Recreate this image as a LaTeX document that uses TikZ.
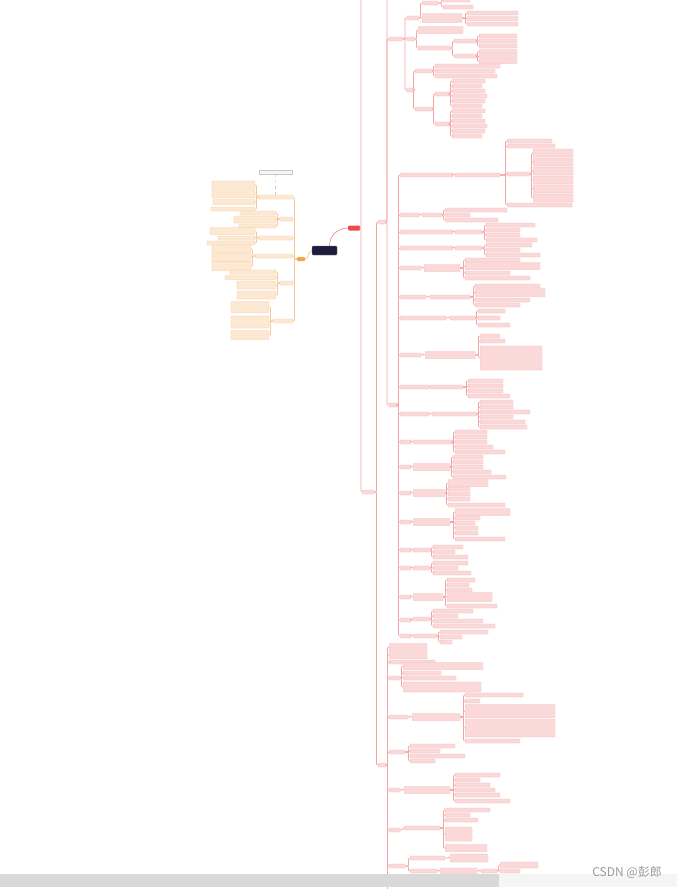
\documentclass[tikz,border=0pt]{standalone}
\usepackage{fontspec}
\usepackage{xcolor}
\newfontfamily\markfont{Noto Sans CJK SC}

\definecolor{pinkline}{HTML}{F4A4A4}
\definecolor{pinkbox}{HTML}{FCD9D9}
\definecolor{pinkedge}{HTML}{F2B5B5}
\definecolor{peachline}{HTML}{F6C898}
\definecolor{peachbox}{HTML}{FDE8D2}
\definecolor{peachedge}{HTML}{F5CBA0}
\definecolor{rootblue}{HTML}{1C1C3C}
\definecolor{hubred}{HTML}{EE4A4A}
\definecolor{huborange}{HTML}{F5A24E}

% children growing to the right
\newcommand\kidsR[4]{%
  \foreach \y/\w/\h [count=\i] in {#4}{%
    \node[boxR, anchor=west, minimum width=\w pt, minimum height=\h pt] (#2\i) at (#3,\y) {};
    \draw[linkR] (#1.east) -| ([xshift=-1.5pt]#2\i.west) -- (#2\i.west);
  }}
% children growing to the left
\newcommand\kidsL[4]{%
  \foreach \y/\w/\h [count=\i] in {#4}{%
    \node[boxL, anchor=east, minimum width=\w pt, minimum height=\h pt] (#2\i) at (#3,\y) {};
    \draw[linkL] (#1.west) -| ([xshift=1.5pt]#2\i.east) -- (#2\i.east);
  }}

\begin{document}
\begin{tikzpicture}[
    x=1pt, y=-1pt,
    boxR/.style={
        draw=pinkedge,
        fill=pinkbox,
        line width=0.2pt,
        inner sep=0pt,
        rounded corners=0.5pt
    },
    boxL/.style={
        draw=peachedge,
        fill=peachbox,
        line width=0.2pt,
        inner sep=0pt,
        rounded corners=0.5pt
    },
    linkR/.style={
        draw=pinkline,
        line width=0.7pt,
        rounded corners=1pt
    },
    linkL/.style={
        draw=peachline,
        line width=0.7pt,
        rounded corners=1pt
    }
]

\useasboundingbox (0,0) rectangle (677,889);
\fill[white] (0,0) rectangle (677,889);
\clip (0,0) rectangle (677,889);

% Centre and the two hubs
\node[fill=rootblue, draw=rootblue!60, rounded corners=1pt,
      minimum width=25pt, minimum height=9pt, inner sep=0pt] (root) at (324.5,250.5) {};
\node[fill=hubred, rounded corners=1pt,
      minimum width=12pt, minimum height=5pt, inner sep=0pt] (hub) at (354,228) {};
\node[fill=huborange, rounded corners=1pt,
      minimum width=8pt, minimum height=4pt, inner sep=0pt] (side) at (301,259) {};

\draw[hubred!70, line width=0.6pt]
    ([xshift=5pt]root.north) .. controls +(0,-12) and +(-8,0) .. (hub.west);
\draw[huborange!70, line width=0.6pt]
    (root.west) .. controls +(-4,0) and +(4,0) .. (side.east);

% Right trunk
\coordinate (topR) at (361,-8);
\coordinate (topK) at (387,-8);
\coordinate (botK) at (387.5,900);
\node[boxR, anchor=west, minimum width=12pt, minimum height=4pt] (c2) at (362,492) {};
\draw[linkR] (hub.east) -| ([xshift=-1pt]c2.west) -- (c2.west);
\draw[linkR] (hub.east) -| (topR);

\kidsR{c2}{br}{378}{222/8/4, 765/8/4}
\kidsR{br1}{sec}{388.5}{39/14/4, 405/9/4}
\draw[linkR] (br1.east) -| (topK);

% Top block
\kidsR{sec1}{a}{406.5}{18/12/4, 39/8/4, 90/7/4}
\kidsR{a1}{aa}{422}{3/16/4, 18/40/9}
\kidsR{aa1}{aab}{443}{0/27/4, 7/30/4}
\kidsR{aa2}{aac}{467}{13/51/4, 18.5/51/4, 24/51/4}
\kidsR{a2}{ab}{418}{30/45/7, 48/33/4}
\kidsR{ab2}{abc}{454}{41/23/4, 56/23/4}
\kidsR{abc1}{abd}{479}{36/38/4, 41/38/4, 46/38/4}
\kidsR{abc2}{abe}{479}{51.5/38/4, 56.5/38/4, 61.5/38/4}
\kidsR{a3}{ac}{415}{71/17/4, 109/18/4}
\kidsR{ac1}{acl}{435}{66/65/4, 71/60/4, 76/62/4}
\kidsR{ac2}{acm}{435}{94/15/4, 124/15/4}
\kidsR{acm1}{acn}{452}{81/33/4, 86/30/4, 91/33/4, 96/35/4, 101/33/4, 106/30/4}
\kidsR{acm2}{aco}{452}{111/33/4, 116/30/4, 121/33/4, 126/35/4, 131/33/4, 136/30/4}

% Middle block
\kidsR{sec2}{k}{400}{175/53/4, 215/19/4, 232/53/4, 248/53/4, 268/21/4, 297/26/4,
    318/46/4, 355/21/4, 387/29/4, 414/29/4, 442/11/4, 467/11/4, 493/11/4,
    522/11/4, 550/11/4, 568/11/4, 597/11/4, 620/11/4, 636/11/4}
\kidsR{k1}{ka}{455}{175/45/4}
\kidsR{ka1}{kb}{507}{141/45/4, 146/48/4, 174/23/4, 205/65/4}
\kidsR{kb3}{kc}{533}{153/40/8, 162/40/8, 171/40/8, 180/40/8, 189/40/8, 198/40/8}
\kidsR{k2}{kd}{422}{215/20/4}
\kidsR{kd1}{ke}{445}{210/62/4, 215/25/4, 220/53/4}
\kidsR{k3}{kf}{455}{232/27/4}
\kidsR{kf1}{kg}{486}{225/49/4, 230/34/4, 235/34/4, 240/51/4}
\kidsR{k4}{kh}{455}{248/27/4}
\kidsR{kh1}{ki}{486}{245/46/4, 250/34/4, 255/54/4}
\kidsR{k5}{kj}{424}{268/36/7}
\kidsR{kj1}{kk}{465}{260/55/4, 266/75/7, 273/45/4, 278/65/4}
\kidsR{k6}{kl}{430}{297/40/4}
\kidsR{kl1}{km}{475}{286/65/4, 292.5/70/8, 300/55/4, 305/45/4}
\kidsR{k7}{kn}{450}{318/25/4}
\kidsR{kn1}{ko}{478}{311/27/4, 318/22/4, 325/32/4}
\kidsR{k8}{kp}{425}{355/50/7}
\kidsR{kp1}{kq}{480}{336/20/4, 341/25/4, 358/62/24}
\kidsR{k9}{kr}{430}{387/33/4}
\kidsR{kr1}{ks}{468}{381/35/4, 386/35/4, 391/35/4, 396/42/4}
\kidsR{k10}{kt}{432}{414/45/4}
\kidsR{kt1}{ku}{480}{402/33/4, 407/33/4, 412/50/4, 417/33/4, 422/45/4, 427/47/4}
\kidsR{k11}{kv}{413}{442/40/4}
\kidsR{kv1}{kw}{455}{432/32/4, 437/32/4, 442/32/4, 447/38/4, 452/50/4}
\kidsR{k12}{kx}{413}{467/37/7}
\kidsR{kx1}{ky}{453}{457/30/4, 462/30/4, 467/30/4, 472/38/4, 477/53/4}
\kidsR{k13}{kz}{413}{493/32/7}
\kidsR{kz1}{la}{448}{483/40/7, 489/22/4, 494/22/4, 499/22/4, 505/57/4}
\kidsR{k14}{lb}{413}{522/37/7}
\kidsR{lb1}{lc}{455}{512/55/7, 518/25/4, 523/20/4, 528/23/4, 533/23/4, 539/50/4}
\kidsR{k15}{ld}{413}{550/17/4}
\kidsR{ld1}{le}{433}{547/30/4, 552/22/4, 557/35/4}
\kidsR{k16}{lf}{413}{568/17/4}
\kidsR{lf1}{lg}{433}{563/35/4, 568/25/4, 573/38/4}
\kidsR{k17}{lh}{413}{597/30/7}
\kidsR{lh1}{li}{447}{580/28/4, 585/22/4, 590/25/4, 597/45/9, 606/50/4}
\kidsR{k18}{lj}{413}{619/17/4}
\kidsR{lj1}{lk}{433}{611/40/4, 616/25/4, 621/50/4, 626/62/4}
\kidsR{k19}{ll}{413}{636/24/4}
\kidsR{ll1}{lm}{440}{632/48/4, 637/22/4, 642/12/4}

% Bottom block
\kidsR{br2}{m}{389}{647/38/7, 655/38/7, 662/46/4, 678/11/4, 717/19/4,
    752/16/4, 790/11/4, 830/11/4, 866/16/4}
\draw[linkR] (br2.east) -| (botK);
\kidsR{m4}{ma}{403}{666/80/7, 673/38/4, 678/53/4, 687/78/10}
\kidsR{m5}{mb}{412}{717/48/7}
\kidsR{mb1}{mc}{465}{695/58/4, 701/15/4, 711/90/13, 728/90/18, 741/55/4}
\kidsR{m6}{md}{410}{746/45/4, 751/30/4, 756/55/4, 761/25/4}
\kidsR{m7}{me}{404}{790/46/7}
\kidsR{me1}{mf}{455}{775/45/4, 780/25/4, 785/35/4, 790/40/4, 795/45/4, 801/55/4}
\kidsR{m8}{mg}{404}{828/36/4}
\kidsR{mg1}{mh}{445}{810/45/4, 815/25/4, 820/33/4, 834/27/14, 848/42/7}
\kidsR{m9}{mi}{410}{858/35/4, 871/27/4}
\kidsR{mi1}{mj}{450}{858/38/8}
\kidsR{mi2}{mk}{440}{871/37/6}
\kidsR{mk1}{ml}{481}{871/16/4}
\kidsR{ml1}{mm}{500}{865/38/6, 871/20/4}

% Left branch
\kidsL{side}{L}{293}{197/35/4, 219/13/4, 238/34/4, 256/38/4, 283/13/4, 321/20/4}
\kidsL{L1}{Lb}{255}{185/43/8, 194/43/8, 202/42/5, 209/44/4}
\kidsL{L2}{Lc}{276}{213/36/4, 219.5/42/7, 226/37/4}
\kidsL{L3}{Ld}{255}{231/45/7, 238/37/4, 243/48/4}
\kidsL{L4}{Le}{251}{249/39/8, 257.5/39/8, 266/39/9}
\kidsL{L5}{Lf}{276}{272/46/4, 277.5/51/4, 285/39/8, 295/39/8}
\kidsL{L6}{Lg}{269}{307/38/11, 322/38/12, 335/38/9}

% Note over the first left topic
\node[draw=gray!45, fill=gray!8, line width=0.2pt, inner sep=0pt,
      minimum width=33pt, minimum height=4pt] (note) at (275.5,172) {};
\draw[dashed, gray!60, line width=0.4pt] (L1.north) -- (note.south);

% Scroll bar and watermark
\fill[gray!30] (0,874) rectangle (499,887);
\fill[gray!8] (499,874) rectangle (677,887);
\node[font=\markfont\fontsize{12}{12}\selectfont, text=gray!80,
      anchor=east, inner sep=0pt] (mark) at (662,872) {CSDN @彭郎};

\end{tikzpicture}
\end{document}
